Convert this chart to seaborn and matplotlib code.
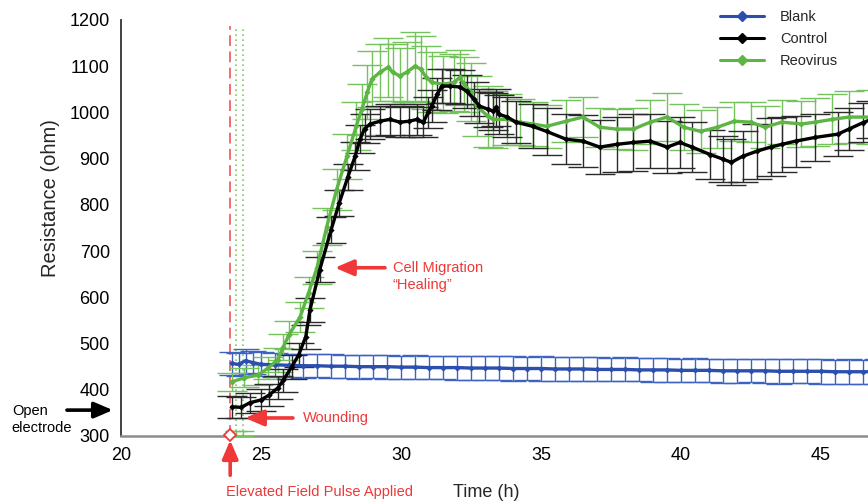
import matplotlib
matplotlib.use("Agg")
import numpy as np
import pandas as pd
import matplotlib.pyplot as plt
from matplotlib.lines import Line2D
import seaborn as sns

# ---------------- data ----------------
# Blank electrode (no cells)
blank_t = [23.95, 24.2, 24.45, 24.7, 25.0, 25.5, 26.0, 26.5, 27.0, 27.5,
           28.0, 28.5, 29.0, 29.5, 30.0, 30.5, 31.0, 31.5, 32.0, 32.5,
           33.0, 33.5, 34.0, 34.5, 35.0, 35.5, 36.0, 36.5, 37.0, 37.5,
           38.0, 38.5, 39.0, 39.5, 40.0, 40.5, 41.0, 41.5, 42.0, 42.5,
           43.0, 43.5, 44.0, 44.5, 45.0, 45.5, 46.0, 46.5, 47.0]
blank_v = [457, 455, 463, 459, 455, 454, 453, 452, 452, 451,
           451, 450, 450, 450, 449, 449, 448, 448, 448, 447,
           447, 447, 446, 446, 446, 445, 445, 445, 444, 444,
           444, 443, 443, 443, 442, 442, 442, 441, 441, 441,
           441, 440, 440, 440, 440, 439, 439, 439, 439]
blank_sd = [24, 25, 26, 25, 26, 26, 25, 26, 25, 26,
            25, 26, 25, 26, 25, 26, 25, 25, 26, 25,
            26, 25, 26, 25, 26, 25, 26, 25, 26, 25,
            26, 25, 26, 26, 25, 26, 25, 26, 26, 25,
            26, 27, 26, 26, 27, 26, 27, 26, 27]

# Control wells
ctrl_t = [23.95, 24.3, 24.6, 25.0, 25.3, 25.6, 25.8, 26.1, 26.35, 26.6,
          26.75, 27.1, 27.5, 27.8, 28.1, 28.36, 28.54, 28.7, 28.9,
          29.25, 29.6, 29.96, 30.3, 30.57, 30.8,
          30.97, 31.1, 31.3, 31.46, 31.75, 32.1, 32.35, 32.6, 32.8,
          33.1, 33.3, 33.4, 33.5, 33.8, 34.1, 34.7, 35.2,
          35.9, 36.5, 37.1, 37.7, 38.3, 38.9, 39.5, 39.96, 40.4,
          41.04, 41.5, 41.8, 42.2, 42.7, 43.2, 43.6,
          44.1, 44.8, 45.6, 46.0, 46.5, 46.8]
ctrl_v = [363, 362, 372, 378, 389, 404, 421, 450, 476, 515,
          573, 660, 745, 805, 860, 905, 942, 965, 975,
          981, 985, 979, 981, 985, 979,
          1000, 1014, 1040, 1057, 1057, 1055, 1046, 1029, 1014,
          1007, 1003, 1011, 996, 990, 979, 970, 959,
          942, 938, 925, 931, 935, 938, 925, 935, 925,
          909, 899, 892, 905, 916, 925, 931,
          938, 946, 953, 964, 978, 985]
ctrl_sd = [24, 22, 22, 24, 24, 25, 25, 26, 26, 26,
           26, 27, 28, 28, 28, 30, 30, 32, 32,
           32, 33, 32, 34, 34, 33,
           33, 34, 35, 36, 36, 36, 36, 36, 36,
           38, 40, 40, 42, 44, 46, 48, 50,
           54, 56, 58, 60, 62, 58, 56, 55, 54,
           52, 50, 50, 55, 60, 62, 60,
           55, 50, 48, 45, 42, 40]

# Reovirus-treated wells
reo_t = [23.95, 24.4, 24.9, 25.25, 25.6, 25.8, 26.0,
         26.4, 26.7, 27.0, 27.35, 27.7, 28.07,
         28.4, 28.6, 28.8, 28.96,
         29.25, 29.55, 29.7, 29.96, 30.2, 30.5, 30.7, 30.9, 31.1,
         31.5, 31.9, 32.1, 32.25, 32.5, 32.7, 33.1, 33.3,
         33.8, 34.25, 34.7, 35.2,
         35.9, 36.5, 37.1, 37.7, 38.3, 38.9, 39.5, 40.1, 40.7, 41.3, 41.9, 42.5,
         43.0, 43.6, 44.3, 44.8, 45.4, 46.0, 46.8]
reo_v = [417, 426, 432, 447, 465, 493, 519,
         558, 610, 664, 753, 833, 905,
         970, 1007, 1044, 1072,
         1087, 1098, 1087, 1079, 1087, 1100, 1094, 1076, 1065,
         1061, 1065, 1076, 1061, 1044, 1014, 992, 985,
         985, 979, 975, 970,
         981, 990, 968, 964, 964, 979, 990, 968, 959, 968, 981, 979,
         968, 979, 975, 979, 985, 990, 990]
reo_sd = [20, 21, 22, 24, 26, 28, 30,
          32, 34, 36, 40, 44, 48,
          52, 55, 58, 60,
          62, 64, 62, 60, 65, 75, 72, 68, 65,
          62, 62, 60, 60, 62, 65, 66, 62,
          55, 50, 48, 46,
          45, 44, 42, 44, 46, 48, 52, 50, 46, 44, 42, 44,
          46, 48, 50, 52, 54, 56, 58]

# Event times: field pulse and wounding steps
pulse_t = [23.9]
wound_t = [24.1, 24.36]

series_names = ["Blank", "Control", "Reovirus"]

# ---------------- style ----------------
sns.set_style("white")
plt.rcParams["font.family"] = ["Liberation Sans", "DejaVu Sans"]

BLUE = "#2c4fae"
BLUE_ERR = "#3d62c2"
BLACK = "#000000"
BLACK_ERR = "#2a2a2a"
GREEN = "#5cb544"
GREEN_ERR = "#74c25c"
RED = "#ef3838"

colors = {"Blank": BLUE, "Control": BLACK, "Reovirus": GREEN}

fig = plt.figure(figsize=(8.68, 5.01), dpi=100)
W, H = 868, 501
ax = fig.add_axes([121 / W, 65 / H, 747 / W, 416 / H])

# long-format table for seaborn
df = pd.concat([
    pd.DataFrame({"time": blank_t, "ohm": blank_v, "series": "Blank"}),
    pd.DataFrame({"time": ctrl_t, "ohm": ctrl_v, "series": "Control"}),
    pd.DataFrame({"time": reo_t, "ohm": reo_v, "series": "Reovirus"}),
], ignore_index=True)

# error bars (drawn beneath the mean traces)
ax.errorbar(blank_t, blank_v, yerr=blank_sd, fmt="none", ecolor=BLUE_ERR,
            elinewidth=1.0, capsize=9.5, capthick=1.0, zorder=2)
ax.errorbar(reo_t, reo_v, yerr=reo_sd, fmt="none", ecolor=GREEN_ERR,
            elinewidth=1.0, capsize=11, capthick=1.0, zorder=2)
ax.errorbar(ctrl_t, ctrl_v, yerr=ctrl_sd, fmt="none", ecolor=BLACK_ERR,
            elinewidth=1.0, capsize=11, capthick=1.0, zorder=2)

# mean traces
sns.lineplot(data=df, x="time", y="ohm", hue="series",
             hue_order=["Blank", "Reovirus", "Control"],
             palette=colors, estimator=None, sort=True,
             marker="D", markersize=3.2, markeredgewidth=0,
             linewidth=2.4, legend=False, ax=ax, zorder=3)

# event markers
ax.axvline(pulse_t[0], ymin=0, ymax=(1187 - 300) / 900, color="#f06262",
           lw=1.3, dashes=(6, 3), zorder=1)
for wt in wound_t:
    ax.axvline(wt, ymin=0, ymax=(1187 - 300) / 900, color="#7ccc66",
               lw=1.2, dashes=(1, 2), zorder=1)
ax.plot(pulse_t, [302], marker="D", ms=6, mfc="white", mec=RED, mew=1.3,
        clip_on=False, zorder=5)
ax.errorbar(wound_t, [306, 306], yerr=[5, 5], fmt="none", ecolor=GREEN_ERR,
            elinewidth=1.0, capsize=8, capthick=1.0, clip_on=False, zorder=4)

# axes
ax.set_xlim(20, 46.68)
ax.set_ylim(300, 1200)
ax.set_xticks([20, 25, 30, 35, 40, 45])
ax.set_yticks(np.arange(300, 1201, 100))
ax.tick_params(axis="y", direction="in", length=7, width=1.0, color="#444444",
               labelsize=13, pad=8, labelcolor="black")
ax.tick_params(axis="x", direction="in", length=6, width=1.0, color="#444444",
               labelsize=13, pad=8, labelcolor="black")
for s in ["top", "right"]:
    ax.spines[s].set_visible(False)
ax.spines["left"].set_color("#333333")
ax.spines["left"].set_linewidth(1.3)
ax.spines["bottom"].set_color("#8c8c8c")
ax.spines["bottom"].set_linewidth(1.8)

ax.set_ylabel("Resistance (ohm)", fontsize=14.5)
ax.yaxis.set_label_coords((60 - 121) / 747, (436 - 198) / 416)
ax.set_xlabel("Time (h)", fontsize=13)
ax.xaxis.set_label_coords((486 - 121) / 747, (436 - 484) / 416)

# legend
handles = [Line2D([0], [0], color=colors[n], lw=2.2, marker="D", ms=5,
                  mfc=colors[n], mec=colors[n]) for n in series_names]
ax.legend(handles, series_names, loc="upper left",
          bbox_to_anchor=(720 / W, 1 - 10 / H), bbox_transform=fig.transFigure,
          frameon=False, fontsize=10.5, handlelength=3.0, handletextpad=1.1,
          labelspacing=0.55, borderpad=0, borderaxespad=0)

# annotations
arrow_red = dict(arrowstyle="-|>,head_length=0.7,head_width=0.3", color=RED,
                 lw=2.6, shrinkA=0, shrinkB=0, mutation_scale=16)
ax.annotate("", xy=(27.64, 664), xytext=(29.43, 664), arrowprops=arrow_red)
ax.text(29.71, 664, "Cell Migration", color=RED, fontsize=10.5,
        ha="left", va="center")
ax.text(29.71, 627, "\u201cHealing\u201d", color=RED, fontsize=10.5,
        ha="left", va="center")

ax.annotate("", xy=(24.43, 339), xytext=(26.14, 339), arrowprops=arrow_red)
ax.text(26.5, 339, "Wounding", color=RED, fontsize=10.5, ha="left", va="center")

ax.annotate("", xy=(23.9, 291), xytext=(23.9, 215), arrowprops=arrow_red,
            annotation_clip=False)
ax.text(27.1, 178, "Elevated Field Pulse Applied", color=RED, fontsize=10.5,
        ha="center", va="center", clip_on=False)

arrow_black = dict(arrowstyle="-|>,head_length=0.7,head_width=0.3",
                   color="black", lw=2.6, shrinkA=0, shrinkB=0,
                   mutation_scale=16)
ax.annotate("", xy=(19.71, 356), xytext=(18.07, 356), arrowprops=arrow_black,
            annotation_clip=False)
ax.text(16.1, 355, "Open", color="black", fontsize=10.5, ha="left",
        va="center", clip_on=False)
ax.text(16.1, 318, "electrode", color="black", fontsize=10.5, ha="left",
        va="center", clip_on=False)

fig.savefig("out.png", dpi=100)
